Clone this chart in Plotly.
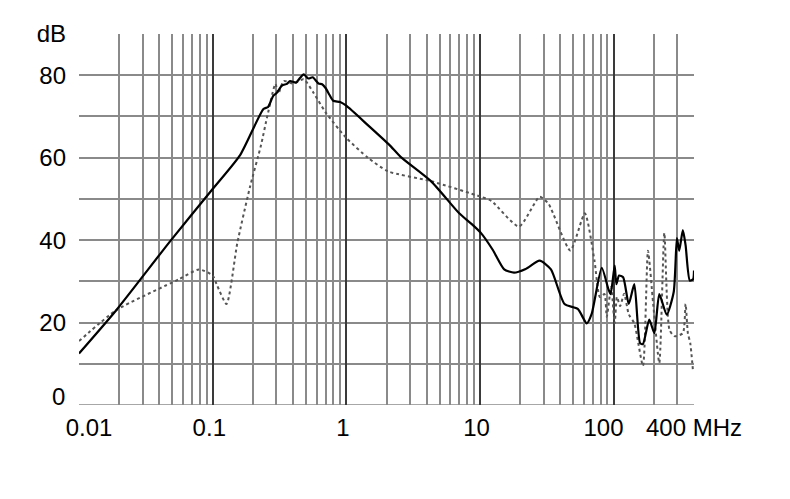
import plotly.graph_objects as go

# Solid curve (black)
solid_f = [0.01, 0.019, 0.048, 0.1, 0.161, 0.24, 0.26, 0.284, 0.30, 0.33, 0.36, 0.38, 0.42, 0.45,
           0.48, 0.52, 0.56, 0.62, 0.66, 0.70, 0.75, 0.80, 0.9, 1.0, 1.45, 2.1, 2.55, 4.3, 7.0,
           8.6, 10.2, 12.5, 15.2, 18.0, 22.0, 28.0, 34.0, 43.0, 54.0, 63.0, 68.6, 81.6,
           91.5, 95.0, 102.0, 105.0, 110.0, 118.0, 130.0, 143.0, 158.0, 166.0, 185.0, 202.0,
           220.0, 250.0, 282.0, 298.0, 310.0, 330.0, 346.0, 372.0, 394.0, 400.0]
solid_db = [12.5, 23.0, 39.7, 52.4, 60.7, 71.8, 72.3, 75.0, 75.6, 77.5, 77.9, 78.6, 78.2, 79.3,
            80.2, 79.2, 79.5, 78.0, 77.8, 76.9, 75.2, 73.8, 73.5, 72.6, 67.9, 63.1, 60.2, 54.3, 46.5,
            44.0, 41.7, 37.6, 32.9, 32.1, 33.0, 35.0, 32.9, 24.5, 23.3, 19.8, 22.1, 33.3,
            28.1, 26.9, 33.8, 29.3, 31.4, 31.0, 24.5, 29.3, 15.0, 14.8, 20.7, 17.4,
            26.9, 21.9, 27.4, 40.5, 37.4, 42.4, 38.8, 30.2, 30.5, 32.6]

# Dotted curve (grey)
dotted_f = [0.01, 0.019, 0.056, 0.079, 0.1, 0.108, 0.127, 0.153, 0.19, 0.23, 0.257, 0.295,
            0.31, 0.34, 0.40, 0.48, 0.57, 0.70, 1.0, 1.45, 2.05, 4.3, 10.2, 12.2, 19.6, 28.0,
            32.6, 47.5, 61.0, 72.0, 79.0, 85.5, 89.0, 96.0, 102.0, 106.0, 112.0, 120.0, 130.0,
            143.0, 166.0, 181.0, 198.0, 220.0, 240.0, 262.0, 285.0, 330.0, 346.0, 360.0, 375.0, 394.0]
dotted_db = [15.5, 23.0, 30.5, 32.9, 31.4, 29.0, 24.5, 39.3, 52.8, 63.0, 70.2, 77.9,
             75.5, 78.6, 78.0, 79.0, 75.7, 71.0, 64.8, 60.0, 56.7, 54.3, 50.5, 49.5, 43.3, 50.5,
             48.8, 37.5, 46.5, 35.0, 26.2, 26.9, 21.4, 28.6, 19.8, 26.2, 24.0, 27.0, 22.0,
             19.8, 9.5, 37.4, 24.5, 10.2, 41.7, 18.3, 16.7, 17.4, 24.5, 17.4, 15.0, 7.9]

# Axis ticks
minor_vals = []
for dec in [0.01, 0.1, 1, 10, 100]:
    for m in range(1, 10):
        v = dec * m
        if v <= 400:
            minor_vals.append(v)
minor_vals.append(400)
NB = "\u00a0"
label_map = {0.01: NB * 3 + "0.01", 0.1: "0.1" + NB, 1: "1" + NB, 10: "10" + NB,
             100: "100" + NB * 3, 400: "400 MHz"}
x_text = [label_map.get(round(v, 6), "") for v in minor_vals]
decade_vals = [0.01, 0.1, 1, 10, 100]

y_vals = [10, 20, 30, 40, 50, 60, 70, 80, 90]
y_text = ["", "20", "", "40", "", "60", "", "80", "dB"]

font = dict(family="Liberation Sans, Arial, sans-serif", size=24, color="#000000")

fig = go.Figure()
fig.add_trace(go.Scatter(x=dotted_f, y=dotted_db, mode="lines",
                         line=dict(color="#555555", width=2, dash="dot", shape="spline",
                                   smoothing=0.6),
                         showlegend=False))
fig.add_trace(go.Scatter(x=solid_f, y=solid_db, mode="lines",
                         line=dict(color="#000000", width=2.2, shape="spline", smoothing=0.6),
                         showlegend=False))

fig.update_layout(
    width=782, height=491,
    margin=dict(l=71, r=96, t=19, b=94),
    paper_bgcolor="white", plot_bgcolor="white",
    font=font,
    xaxis=dict(type="log", range=[-2, 2.60206], tickvals=minor_vals, ticktext=x_text,
               showgrid=True, gridcolor="#8a8a8a", gridwidth=1.5, zeroline=False,
               showline=False, ticks="", ticklabelstandoff=6, tickfont=font),
    xaxis2=dict(type="log", range=[-2, 2.60206], overlaying="x", tickvals=decade_vals,
                showticklabels=False, showgrid=True, gridcolor="#3a3a3a", gridwidth=2,
                zeroline=False, showline=False, ticks=""),
    yaxis=dict(range=[0, 90], tickvals=y_vals, ticktext=y_text, showgrid=True,
               gridcolor="#8a8a8a", gridwidth=1.5, zeroline=False, showline=False,
               ticks="", ticklabelstandoff=12, tickfont=font),
    shapes=[dict(type="line", xref="paper", yref="y", x0=0, x1=1, y0=0, y1=0,
                 line=dict(color="#8a8a8a", width=1.5), layer="below")],
    annotations=[dict(text="0", xref="paper", yref="y", x=0, y=0, xanchor="right",
                      yanchor="middle", xshift=-12, yshift=9, showarrow=False, font=font)],
)
# dummy trace to activate xaxis2
fig.add_trace(go.Scatter(x=[0.01], y=[None], xaxis="x2", showlegend=False, hoverinfo="skip"))

fig.write_html("out.html")
